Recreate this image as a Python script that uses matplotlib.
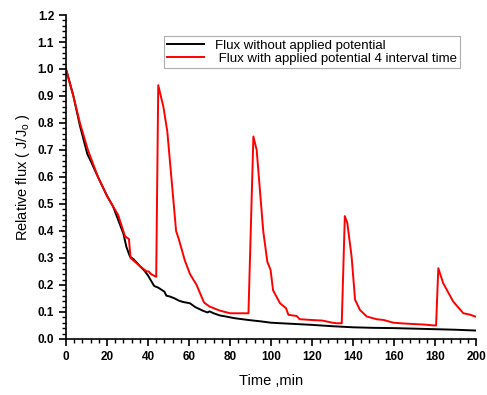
import matplotlib
matplotlib.use("Agg")
import matplotlib.pyplot as plt
from matplotlib.ticker import MultipleLocator

plt.rcParams['font.family'] = ['Liberation Sans', 'DejaVu Sans']

# flux without applied potential
t_plain = [0, 3.6, 6.8, 10.4, 12, 15.6, 20, 23, 25, 28, 29.5, 31.2, 33, 36, 38, 40,
           43, 45, 47, 48, 49, 50.7, 53, 55, 57, 60.5, 63, 66.9, 69, 70, 72, 75, 78,
           82, 86, 89, 95, 100, 110, 120, 130, 140, 150, 160, 170, 180, 190, 200]
flux_plain = [1.0, 0.9, 0.79, 0.685, 0.66, 0.6, 0.53, 0.49, 0.45, 0.39, 0.34, 0.305,
              0.295, 0.27, 0.255, 0.235, 0.196, 0.19, 0.18, 0.175, 0.16, 0.157, 0.15,
              0.142, 0.137, 0.132, 0.118, 0.104, 0.098, 0.102, 0.095, 0.087, 0.083,
              0.077, 0.073, 0.070, 0.065, 0.060, 0.056, 0.052, 0.047, 0.043, 0.041,
              0.040, 0.038, 0.036, 0.034, 0.031]

# flux with applied potential (4 pulses)
t_pot = [0, 3.6, 6.8, 10.7, 15.6, 20, 23, 25.4, 28.8, 30.7, 31.5, 33, 36, 39.3, 40.3,
         41.5, 44, 45, 47.5, 49.4, 53.7, 55, 58, 60.5, 63.7, 67.3, 70, 75, 80, 85, 89,
         91.4, 93, 96.2, 98.2, 99.8, 101, 104.4, 107.3, 108.5, 112.5, 114, 120, 125,
         130, 132, 134.5, 136, 137.2, 139.3, 141, 143.4, 146.7, 151.5, 155, 159.7,
         165, 170, 175, 179.2, 180.5, 181.6, 184, 188.9, 193.8, 197, 199.5]
flux_pot = [1.0, 0.9, 0.8, 0.7, 0.6, 0.53, 0.49, 0.46, 0.38, 0.37, 0.30, 0.29, 0.27,
            0.25, 0.25, 0.24, 0.23, 0.94, 0.86, 0.77, 0.40, 0.37, 0.29, 0.24, 0.20,
            0.135, 0.12, 0.105, 0.095, 0.095, 0.095, 0.75, 0.70, 0.40, 0.286, 0.255,
            0.18, 0.132, 0.114, 0.089, 0.085, 0.073, 0.07, 0.068, 0.06, 0.058, 0.058,
            0.455, 0.43, 0.305, 0.145, 0.107, 0.083, 0.073, 0.07, 0.06, 0.057, 0.055,
            0.053, 0.05, 0.05, 0.262, 0.206, 0.138, 0.095, 0.09, 0.083]

fig = plt.figure(figsize=(4.87, 3.95), dpi=100)
ax = fig.add_axes([0.1355, 0.142, 0.842, 0.82])

ax.plot(t_plain, flux_plain, color='black', lw=1.4, label='Flux without applied potential')
ax.plot(t_pot, flux_pot, color='red', lw=1.4, label=' Flux with applied potential 4 interval time')

ax.set_xlim(0, 200)
ax.set_ylim(0, 1.2)
ax.xaxis.set_major_locator(MultipleLocator(20))
ax.xaxis.set_minor_locator(MultipleLocator(4))
ax.yaxis.set_major_locator(MultipleLocator(0.1))
ax.yaxis.set_minor_locator(MultipleLocator(0.02))
ax.tick_params(which='major', direction='out', length=5, width=1.2, labelsize=8.5)
ax.tick_params(which='minor', direction='out', length=3, width=1)
for lab in ax.get_xticklabels() + ax.get_yticklabels():
    lab.set_fontweight('bold')
ax.spines['top'].set_visible(False)
ax.spines['right'].set_visible(False)
ax.spines['left'].set_linewidth(1.2)
ax.spines['bottom'].set_linewidth(1.2)

ax.set_xlabel('Time ,min', fontsize=10.5, labelpad=8)
ax.set_ylabel('Relative flux ( J/J$_\\mathregular{o}$ )', fontsize=10.5)

leg = ax.legend(loc='upper left', bbox_to_anchor=(164 / 487, 1 - 36 / 395),
                bbox_transform=fig.transFigure, fontsize=9.5, frameon=True,
                fancybox=False, edgecolor='#999999', borderpad=0.25,
                handlelength=2.8, labelspacing=0.1, borderaxespad=0)
leg.get_frame().set_linewidth(0.8)

fig.savefig('out.png', dpi=100)
